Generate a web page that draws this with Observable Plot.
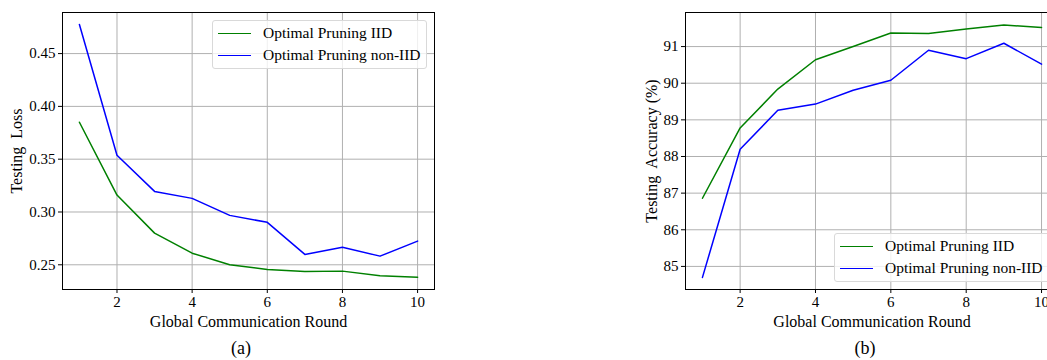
<!DOCTYPE html>
<html><head><meta charset="utf-8">
<script src="https://cdn.jsdelivr.net/npm/d3@7"></script>
<script src="https://cdn.jsdelivr.net/npm/@observablehq/plot@0.6"></script>
<style>
html,body{margin:0;padding:0;background:#fff;overflow:hidden;}
#root{position:relative;width:1047px;height:360px;overflow:hidden;font-family:"Liberation Serif","Times New Roman",serif;color:#000;}
.panel{position:absolute;top:0;width:460px;height:360px;}
.panel svg{overflow:visible;max-width:none !important;width:460px;height:360px;}
.panel svg, .panel svg text{font-family:"Liberation Serif","Times New Roman",serif !important;}
.legend{position:absolute;background:rgba(255,255,255,0.8);border:1px solid #d9d9d9;border-radius:3px;box-sizing:border-box;font-size:15.5px;}
.legend .item{position:absolute;left:0;height:20px;display:flex;align-items:center;white-space:nowrap;}
.legend .sw{display:inline-block;width:33px;height:0;border-top:1.5px solid;margin-left:5px;margin-right:12px;}
.caption{position:absolute;font-size:18px;transform:translateX(-50%);}
</style>
</head><body>
<div id="root"></div>
<script>
const rounds = [1, 2, 3, 4, 5, 6, 7, 8, 9, 10];
const seriesNames = ["Optimal Pruning IID", "Optimal Pruning non-IID"];
const seriesColors = ["#008000", "#0000ff"];
const lossIID = [0.385, 0.316, 0.280, 0.261, 0.250, 0.2455, 0.2436, 0.244, 0.2396, 0.2383];
const lossNonIID = [0.4775, 0.3538, 0.3195, 0.3129, 0.2968, 0.2902, 0.2598, 0.2667, 0.2582, 0.2724];
const accIID = [86.86, 88.78, 89.84, 90.64, 91.0, 91.37, 91.36, 91.48, 91.59, 91.52];
const accNonIID = [84.70, 88.20, 89.26, 89.43, 89.81, 90.08, 90.90, 90.67, 91.09, 90.52];
const xTicks = [2, 4, 6, 8, 10];
const lossTicks = [0.25, 0.30, 0.35, 0.40, 0.45];
const accTicks = [85, 86, 87, 88, 89, 90, 91];
const xLabel = "Global Communication Round";
const lossLabel = "Testing  Loss";
const accLabel = "Testing  Accuracy (%)";
const captions = ["(a)", "(b)"];

function toRows(a, b) {
  const rows = [];
  [a, b].forEach((vals, i) => vals.forEach((v, j) => rows.push({round: rounds[j], value: v, series: seriesNames[i]})));
  return rows;
}

const FONT = '"Liberation Serif", serif';

function panel({rows, yDomain, yTicks, yFormat, yLabel, width, marginLeft, marginRight, yLabelOffset}) {
  return Plot.plot({
    width, height: 360,
    marginLeft, marginRight, marginTop: 12, marginBottom: 71,
    style: {fontFamily: FONT, fontSize: "15px", color: "#000", background: "transparent", whiteSpace: "pre"},
    x: {domain: [0.55, 10.45]},
    y: {domain: yDomain},
    color: {domain: seriesNames, range: seriesColors},
    marks: [
      Plot.gridX(xTicks, {stroke: "#b0b0b0", strokeOpacity: 1, strokeWidth: 1}),
      Plot.gridY(yTicks, {stroke: "#b0b0b0", strokeOpacity: 1, strokeWidth: 1}),
      Plot.lineY(rows, {x: "round", y: "value", z: "series", stroke: "series", strokeWidth: 1.5}),
      Plot.frame({stroke: "#000", strokeWidth: 1}),
      Plot.axisX(xTicks, {tickSize: 4, tickPadding: 3, fontSize: 15, fontFamily: FONT, label: null}),
      Plot.axisX({ticks: [], tickSize: 0, fontSize: 16, fontFamily: FONT, label: xLabel, labelAnchor: "center", labelArrow: "none", labelOffset: 37}),
      Plot.axisY(yTicks, {tickSize: 4, tickPadding: 3, fontSize: 15, fontFamily: FONT, tickFormat: yFormat, label: null}),
      Plot.axisY({ticks: [], tickSize: 0, fontSize: 16, fontFamily: FONT, label: yLabel, labelAnchor: "center", labelArrow: "none", labelOffset: yLabelOffset})
    ]
  });
}

function legend(left, top, width) {
  const div = document.createElement("div");
  div.className = "legend";
  Object.assign(div.style, {left: left + "px", top: top + "px", width: width + "px", height: "49px"});
  seriesNames.forEach((name, i) => {
    const it = document.createElement("div");
    it.className = "item";
    it.style.top = (2 + i * 22) + "px";
    const sw = document.createElement("span");
    sw.className = "sw";
    sw.style.borderColor = seriesColors[i];
    it.appendChild(sw);
    it.appendChild(document.createTextNode(name));
    div.appendChild(it);
  });
  return div;
}

const root = document.getElementById("root");

const p1 = document.createElement("div");
p1.className = "panel"; p1.style.left = "0px";
p1.appendChild(panel({rows: toRows(lossIID, lossNonIID), yDomain: [0.2266, 0.4889], yTicks: lossTicks, yFormat: d3.format(".2f"), yLabel: lossLabel, width: 460, marginLeft: 62, marginRight: 26, yLabelOffset: 52}));
root.appendChild(p1);

const p2 = document.createElement("div");
p2.className = "panel"; p2.style.left = "600px";
p2.appendChild(panel({rows: toRows(accIID, accNonIID), yDomain: [84.37, 91.93], yTicks: accTicks, yFormat: d3.format("d"), yLabel: accLabel, width: 460, marginLeft: 85, marginRight: 2, yLabelOffset: 40}));
root.appendChild(p2);

root.appendChild(legend(212, 20, 215));
root.appendChild(legend(834, 233, 230));

[[241, captions[0]], [865, captions[1]]].forEach(([x, t]) => {
  const c = document.createElement("div");
  c.className = "caption";
  c.style.left = x + "px"; c.style.top = "338px";
  c.textContent = t;
  root.appendChild(c);
});
</script>
</body></html>
